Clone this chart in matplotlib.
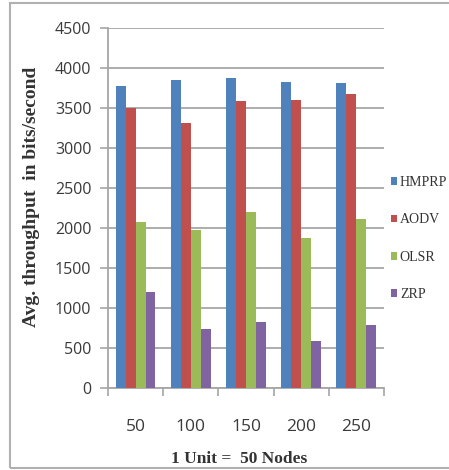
import matplotlib
matplotlib.use("Agg")
import matplotlib.pyplot as plt
from matplotlib.patches import Rectangle
import numpy as np

# nodes per scenario and average throughput (bits/second) per protocol
categories = ["50", "100", "150", "200", "250"]
protocols = ["HMPRP", "AODV", "OLSR", "ZRP"]
hmprp = [3780, 3850, 3875, 3830, 3810]
aodv = [3500, 3310, 3590, 3600, 3670]
olsr = [2080, 1975, 2195, 1880, 2110]
zrp = [1200, 740, 830, 590, 790]
colors = ["#4F81BD", "#C0504D", "#9BBB59", "#8064A2"]

series = [hmprp, aodv, olsr, zrp]

fig = plt.figure(figsize=(4.49, 4.70), dpi=100)
ax = fig.add_axes([0.2405, 0.1745, 0.6145, 0.766])

x = np.arange(len(categories))
width = 0.18
for i, (vals, name, col) in enumerate(zip(series, protocols, colors)):
    offset = (i - 1.5) * width
    ax.bar(x + offset, vals, width, color=col, label=name, zorder=3)

ax.set_xlim(-0.5, len(categories) - 0.5)
ax.set_ylim(0, 4500)
ax.set_yticks(np.arange(0, 4501, 500))
ax.yaxis.grid(True, color="#A6A6A6", linewidth=1.3, zorder=0)

# category ticks sit between groups, labels at group centres
ax.set_xticks(np.arange(-0.5, len(categories), 1.0))
ax.set_xticklabels([])
ax.set_xticks(x, minor=True)
ax.set_xticklabels(categories, minor=True, fontsize=12.5, family="Open Sans", color="#3A3A3A")
ax.tick_params(axis="x", which="minor", length=0, pad=22)
ax.tick_params(axis="x", which="major", length=6, width=1.2, color="#A6A6A6", direction="out")
ax.tick_params(axis="y", length=6, width=1.2, color="#A6A6A6", direction="out", pad=6)
for lbl in ax.get_yticklabels():
    lbl.set_fontsize(11.5)
    lbl.set_family("Open Sans")
    lbl.set_color("#3A3A3A")

for side in ["top", "right"]:
    ax.spines[side].set_visible(False)
for side in ["left", "bottom"]:
    ax.spines[side].set_color("#A6A6A6")
    ax.spines[side].set_linewidth(1.3)

ax.set_ylabel("Avg. throughput  in bits/second", family="Liberation Serif",
              fontweight="bold", fontsize=14, color="#333333")
ax.yaxis.set_label_coords(-0.245, 0.53)
ax.set_xlabel("1 Unit =  50 Nodes", family="Liberation Serif", fontweight="bold",
              fontsize=12.5, color="#333333")
ax.xaxis.set_label_coords(0.475, -0.175)

leg = ax.legend(loc="center left", bbox_to_anchor=(1.0, 0.415), frameon=False,
                prop={"family": "Liberation Serif", "size": 10},
                handlelength=0.45, handleheight=0.45, handletextpad=0.2,
                labelspacing=1.75, borderaxespad=0.1)
for t in leg.get_texts():
    t.set_color("#333333")

# outer chart border
fig.patches.append(Rectangle((10 / 449, 2 / 470), 1.0, 1 - 5 / 470,
                             transform=fig.transFigure, fill=False,
                             edgecolor="#B0B0B0", linewidth=1.5))

fig.savefig("out.png", dpi=100)
